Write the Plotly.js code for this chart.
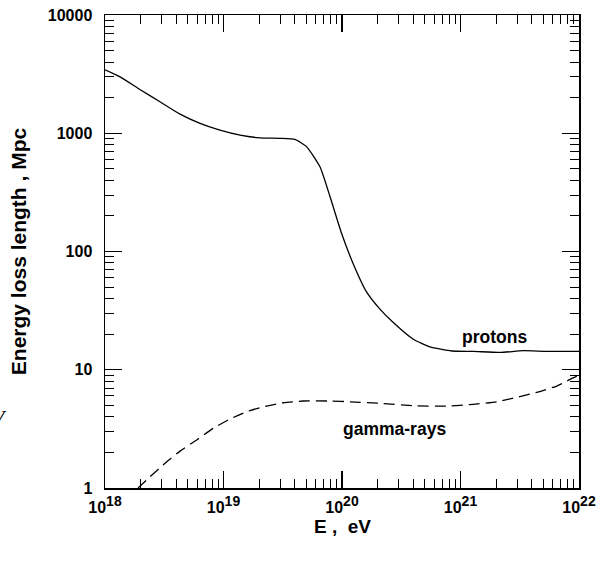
<!DOCTYPE html>
<html>
<head>
<meta charset="utf-8">
<script src="https://cdn.plot.ly/plotly-3.0.1.min.js"></script>
<style>html,body{margin:0;padding:0;background:#fff;}#chart{width:612px;height:561px;}</style>
</head>
<body>
<div id="chart"></div>
<script>
// Proton energy loss length (solid)
const protonE = [1.0e18, 1.34e18, 1.97e18, 2.91e18, 4.30e18, 6.34e18, 9.33e18, 1.38e19, 2.03e19, 3.00e19, 4.01e19, 5.04e19, 6.52e19, 7.93e19, 9.93e19, 1.24e20, 1.61e20, 2.09e20, 2.71e20, 4.00e20, 5.53e20, 8.43e20, 1.28e21, 2.15e21, 3.39e21, 5.33e21, 1.0e22];
const protonL = [3436, 2999, 2345, 1844, 1450, 1211, 1062, 964, 914, 906, 887, 767, 520, 290, 142, 79.3, 45.6, 32.6, 25.1, 18.1, 15.6, 14.4, 14.3, 14.0, 14.5, 14.3, 14.3];
// Gamma-ray energy loss length (dashed)
const gammaE = [1.90e18, 2.40e18, 3.32e18, 4.30e18, 5.94e18, 8.20e18, 1.135e19, 1.57e19, 2.17e19, 3.20e19, 4.71e19, 7.93e19, 1.17e20, 2.09e20, 4.00e20, 7.66e20, 1.28e21, 2.02e21, 2.98e21, 4.40e21, 6.49e21, 8.40e21, 1.0e22];
const gammaL = [1.0, 1.246, 1.668, 2.05, 2.55, 3.20, 3.83, 4.42, 4.87, 5.26, 5.44, 5.44, 5.36, 5.20, 4.96, 4.93, 5.10, 5.36, 5.84, 6.44, 7.28, 8.29, 9.0];

const xTickVals = [1e18, 1e19, 1e20, 1e21, 1e22];
const xExponents = ['18', '19', '20', '21', '22'];
const yTickVals = [1, 10, 100, 1000, 10000];
const yTickText = ['1', '10', '100', '1000', '10000'];

const FONT = 'Liberation Sans, Arial, sans-serif';
const xTickText = xExponents.map(e => '10<sup><span style="font-size:14px">' + e + '</span></sup>');

const traces = [
  {x: protonE, y: protonL, mode: 'lines', type: 'scatter',
   line: {color: '#000', width: 1.3, shape: 'spline', smoothing: 0.5}, hoverinfo: 'skip', showlegend: false},
  {x: gammaE, y: gammaL, mode: 'lines', type: 'scatter',
   line: {color: '#000', width: 1.3, dash: '11px,6px', shape: 'spline', smoothing: 0.5}, hoverinfo: 'skip', showlegend: false}
];

const axisCommon = {
  type: 'log', showgrid: false, zeroline: false,
  showline: true, linecolor: '#000', linewidth: 1.5, mirror: 'ticks',
  ticks: 'inside', ticklen: 17, tickwidth: 1.3, tickcolor: '#000',
  minor: {ticks: 'inside', ticklen: 9, tickwidth: 1, tickcolor: '#000', dtick: 'D1', showgrid: false},
  tickfont: {family: FONT, size: 16, color: '#000', weight: 'bold'}
};

const layout = {
  width: 612, height: 561,
  margin: {l: 105, r: 33, t: 15, b: 73},
  paper_bgcolor: '#fff', plot_bgcolor: '#fff',
  font: {family: FONT, color: '#000'},
  xaxis: Object.assign({}, axisCommon, {
    range: [18, 22], tickvals: xTickVals, ticktext: xTickText, ticklabelstandoff: 4
  }),
  yaxis: Object.assign({}, axisCommon, {
    range: [0, 4], tickvals: yTickVals, ticktext: yTickText, ticklabelstandoff: 8,
    title: {text: '<b>Energy loss length , Mpc</b>', font: {family: FONT, size: 21, color: '#000'}, standoff: 15}
  }),
  annotations: [
    {xref: 'paper', yref: 'paper', x: 0.5, y: -0.081, xanchor: 'center', yanchor: 'middle', text: '<b>E ,  eV</b>', showarrow: false,
     font: {family: FONT, size: 19, color: '#000'}},
    {xref: 'paper', yref: 'paper', x: 0.749, y: 0.320, xanchor: 'left', yanchor: 'middle', text: '<b>protons</b>', showarrow: false,
     font: {family: FONT, size: 17.5, color: '#000'}},
    {xref: 'paper', yref: 'paper', x: 0.610, y: 0.1247, xanchor: 'center', yanchor: 'middle', text: '<b>gamma-rays</b>', showarrow: false,
     font: {family: FONT, size: 17.5, color: '#000'}},
    {xref: 'paper', yref: 'paper', x: -0.2025, y: 0.148, xanchor: 'right', yanchor: 'middle', text: '<i>V</i>', showarrow: false,
     font: {family: 'Liberation Serif, serif', size: 22, color: '#000'}}
  ]
};

Plotly.newPlot('chart', traces, layout, {staticPlot: true, displayModeBar: false});
</script>
</body>
</html>
